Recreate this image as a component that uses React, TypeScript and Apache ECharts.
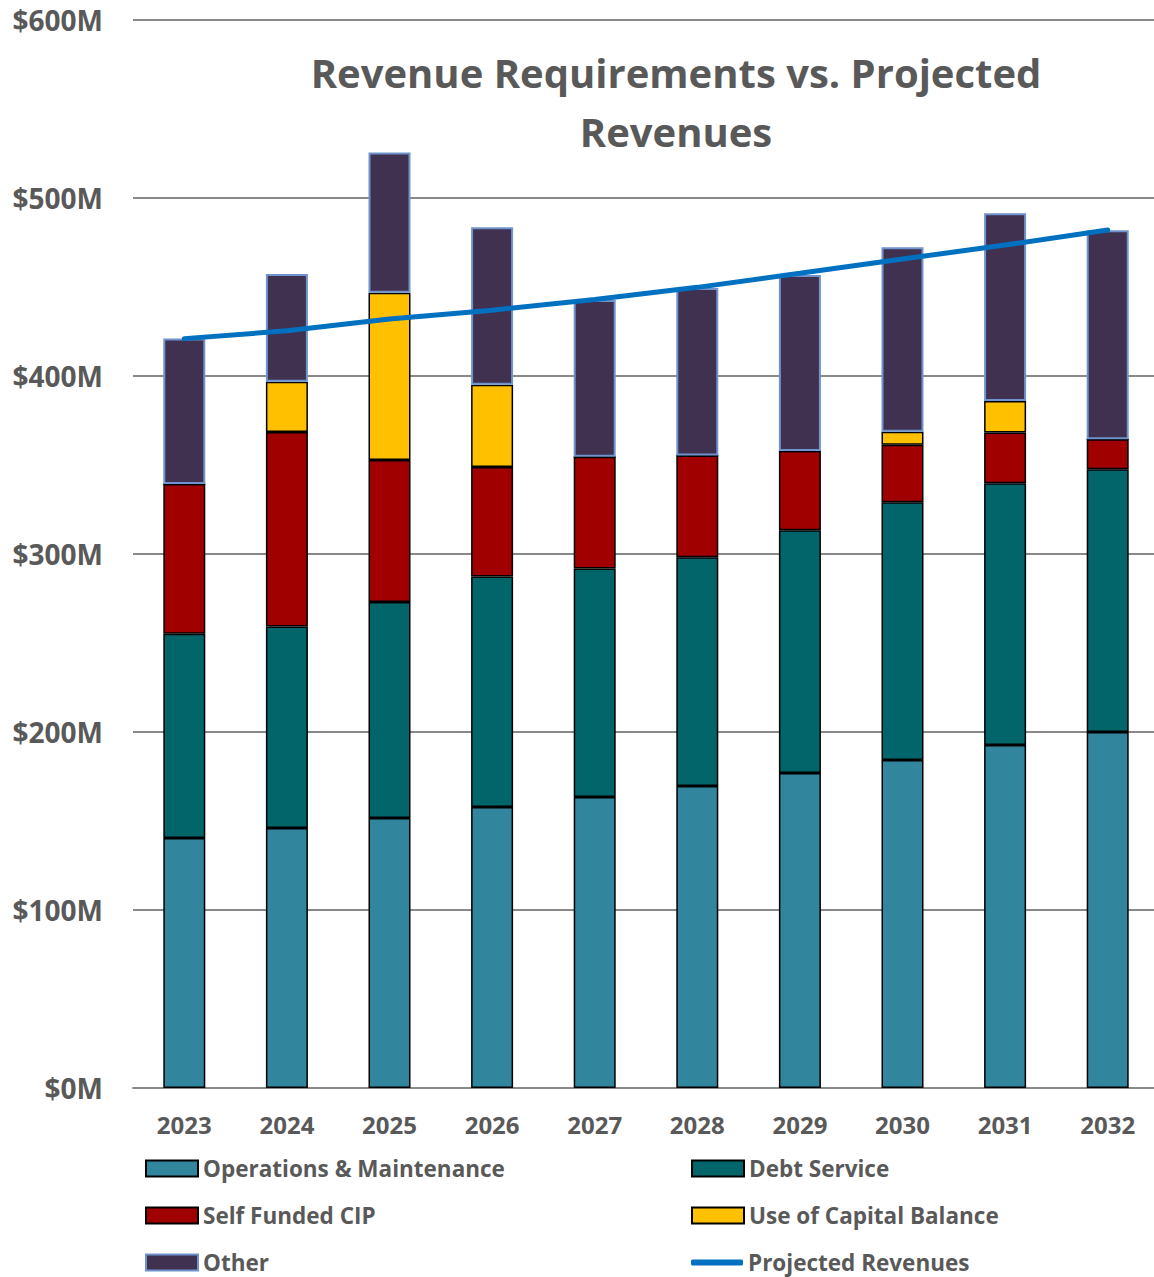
import React, { useEffect, useRef } from "react";
import * as echarts from "echarts";

const years = ["2023", "2024", "2025", "2026", "2027", "2028", "2029", "2030", "2031", "2032"];
const operations = [140.4, 146, 151.7, 157.9, 163.5, 169.7, 177, 184.3, 192.7, 200];
const debtService = [114.8, 113.2, 121.3, 129.4, 128.4, 128.5, 136.3, 144.8, 147, 147.6];
const selfFundedCIP = [84.1, 109.3, 79.8, 61.6, 62.8, 57.1, 44.6, 32.3, 28.6, 16.8];
const capitalBalance = [0, 28.3, 94, 46.2, 0, 0, 0, 7.3, 17.7, 0];
const other = [81.7, 60.5, 78.7, 88.4, 88, 94.1, 98.8, 103.6, 105.4, 117.5];
const projectedRevenues = [421, 425.4, 432, 437, 443, 449.8, 457.7, 465.7, 473.6, 482];

const FONT = "'Open Sans', 'Liberation Sans', sans-serif";
const GRAY = "#595959";

export default function App() {
  const ref = useRef<HTMLDivElement>(null);
  useEffect(() => {
    document.body.style.margin = "0";
    const chart = echarts.init(ref.current!, null, { renderer: "svg" });
    const barBase = (name: string, data: number[], color: string, border: string, bw: number) => ({
      name,
      type: "bar",
      stack: "total",
      data,
      barWidth: 42,
      itemStyle: { color, borderColor: border, borderWidth: bw },
      emphasis: { disabled: true },
    });
    const legendItem = (name: string, left: number, top: number, line = false) => ({
      data: [{ name, icon: line ? "roundRect" : "rect" }],
      left,
      top,
      itemWidth: 52,
      itemHeight: line ? 6 : 16,
      itemGap: 0,
      selectedMode: false,
      textStyle: { fontFamily: FONT, fontWeight: "bold", fontSize: 22.5, color: GRAY },
    });
    chart.setOption({
      animation: false,
      title: {
        text: "Revenue Requirements vs. Projected\nRevenues",
        left: 671,
        textAlign: "center",
        top: 38,
        textStyle: {
          fontFamily: FONT,
          fontWeight: "bold",
          fontSize: 40,
          lineHeight: 59,
          color: GRAY,
        },
      },
      legend: [
        legendItem("Operations & Maintenance", 140, 1152),
        legendItem("Self Funded CIP", 140, 1199),
        legendItem("Other", 140, 1246),
        legendItem("Debt Service", 686, 1152),
        legendItem("Use of Capital Balance", 686, 1199),
        legendItem("Projected Revenues", 686, 1246, true),
      ],
      grid: { left: 133, right: 2, top: 20, bottom: 189, containLabel: false },
      xAxis: {
        type: "category",
        data: years,
        axisTick: { show: false },
        axisLine: { lineStyle: { color: "#898989", width: 2 } },
        axisLabel: {
          margin: 24,
          fontFamily: FONT,
          fontWeight: "bold",
          fontSize: 24,
          color: GRAY,
        },
      },
      yAxis: {
        type: "value",
        min: 0,
        max: 600,
        interval: 100,
        axisLine: { show: false },
        axisTick: { show: false },
        splitLine: { lineStyle: { color: "#898989", width: 2 } },
        axisLabel: {
          margin: 30,
          formatter: (v: number) => "$" + v + "M",
          fontFamily: FONT,
          fontWeight: "bold",
          fontSize: 28,
          color: GRAY,
        },
      },
      series: [
        barBase("Operations & Maintenance", operations, "#31859c", "#000000", 1.5),
        barBase("Debt Service", debtService, "#02656a", "#000000", 1.5),
        barBase("Self Funded CIP", selfFundedCIP, "#a00000", "#000000", 1.5),
        barBase("Use of Capital Balance", capitalBalance, "#ffc000", "#000000", 1.5),
        barBase("Other", other, "#403151", "#6f93cc", 2),
        {
          name: "Projected Revenues",
          type: "line",
          data: projectedRevenues,
          symbol: "none",
          lineStyle: { color: "#0070c0", width: 5, cap: "round" },
          itemStyle: { color: "#0070c0" },
          emphasis: { disabled: true },
          z: 10,
        },
      ],
    });
    return () => chart.dispose();
  }, []);
  return (
    <div style={{ width: 1154, height: 1277, overflow: "hidden" }}>
      <div ref={ref} style={{ width: 1161, height: 1277 }} />
    </div>
  );
}
